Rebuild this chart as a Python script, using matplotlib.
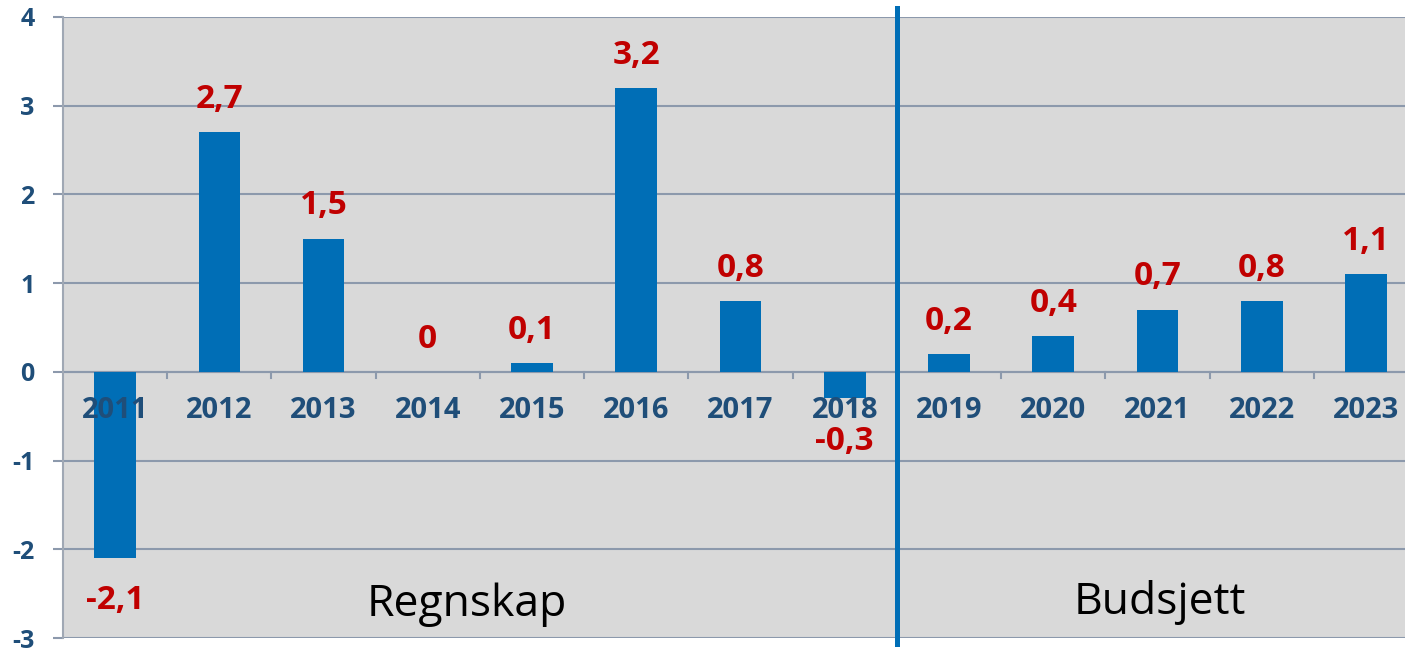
import numpy as np
import matplotlib.pyplot as plt

plt.rcParams['font.family'] = ['Open Sans', 'DejaVu Sans']

years = ['2011', '2012', '2013', '2014', '2015', '2016', '2017', '2018',
         '2019', '2020', '2021', '2022', '2023']
values = [-2.1, 2.7, 1.5, 0.0, 0.1, 3.2, 0.8, -0.3, 0.2, 0.4, 0.7, 0.8, 1.1]
labels = ['-2,1', '2,7', '1,5', '0', '0,1', '3,2', '0,8', '-0,3',
          '0,2', '0,4', '0,7', '0,8', '1,1']
y_ticks = [-3, -2, -1, 0, 1, 2, 3, 4]

blue = '#006EB6'
dark_blue = '#1F4E79'
red = '#C00000'
grid_col = '#8C99AC'

fig = plt.figure(figsize=(14.05, 6.51), dpi=100)
ax = fig.add_axes([63 / 1405, 13 / 651, 1355 / 1405, 621 / 651])
ax.set_facecolor('#D9D9D9')

x = np.arange(len(years))
ax.bar(x, values, width=0.4, color=blue, zorder=3)

ax.set_xlim(-0.5, len(years) - 0.5)
ax.set_ylim(-3, 4)
ax.set_yticks(y_ticks)
ax.set_yticklabels([str(t) for t in y_ticks], fontsize=18, fontweight='bold',
                   color=dark_blue)
ax.yaxis.grid(True, color=grid_col, linewidth=1.5, zorder=1)
ax.tick_params(axis='y', length=7.5, width=1.5, color=grid_col, pad=13)
ax.set_xticks([])

for s in ['top', 'right', 'bottom']:
    ax.spines[s].set_visible(False)
ax.spines['left'].set_color('#A0A8B4')
ax.spines['left'].set_linewidth(1.5)

# zero line with category tick marks
ax.axhline(0, color=grid_col, linewidth=1.5, zorder=2)
for b in np.arange(0.5, len(years) - 0.5, 1.0):
    ax.plot([b, b], [0, -0.07], color=grid_col, linewidth=1.5, zorder=2)

for xi, yr in zip(x, years):
    ax.text(xi, -0.44, yr, ha='center', va='center', fontsize=21,
            fontweight='bold', color=dark_blue, zorder=4)

for xi, v, lab in zip(x, values, labels):
    if v < 0:
        ax.text(xi, v - 0.48, lab, ha='center', va='center', fontsize=24,
                fontweight='bold', color=red, zorder=4)
    else:
        ax.text(xi, v + 0.37, lab, ha='center', va='center', fontsize=24,
                fontweight='bold', color=red, zorder=4)

ax.axvline(7.5, ymin=-0.01, ymax=1.015, color=blue, linewidth=3.6, zorder=5,
           clip_on=False)

ax.text(3.37, -2.63, 'Regnskap', ha='center', va='center', fontsize=32,
        color='black')
ax.text(10.02, -2.6, 'Budsjett', ha='center', va='center', fontsize=32,
        color='black')

fig.savefig('out.png', dpi=100)
